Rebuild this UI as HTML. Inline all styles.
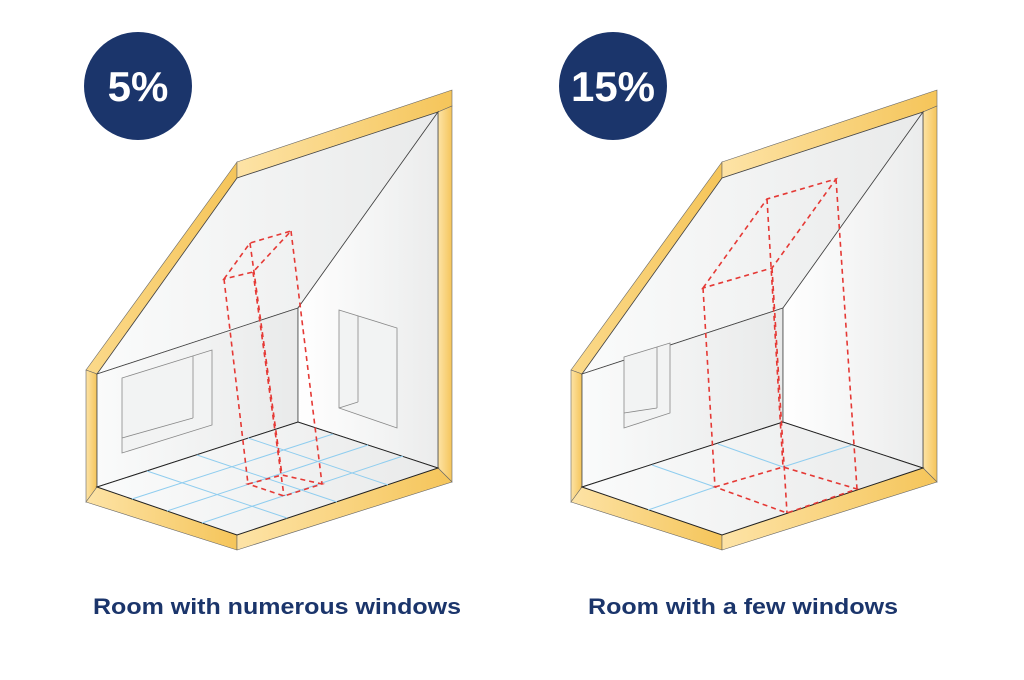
<!DOCTYPE html>
<html><head><meta charset="utf-8"><style>
html,body{margin:0;padding:0;background:#fff;}
svg{display:block}
</style></head><body>
<svg width="1024" height="680" viewBox="0 0 1024 680" xmlns="http://www.w3.org/2000/svg">
<defs>
<linearGradient id="fr" x1="0" y1="0" x2="1" y2="0"><stop offset="0" stop-color="#fde3a6"/><stop offset="1" stop-color="#f5c55a"/></linearGradient>
<linearGradient id="fr2" x1="0" y1="0" x2="1" y2="0"><stop offset="0" stop-color="#fbd98a"/><stop offset="1" stop-color="#f5c55a"/></linearGradient>
<linearGradient id="wl" x1="0" y1="0" x2="1" y2="0"><stop offset="0" stop-color="#fafbfb"/><stop offset="1" stop-color="#e9eaea"/></linearGradient>
<linearGradient id="wr" x1="0" y1="0" x2="1" y2="0"><stop offset="0" stop-color="#ffffff"/><stop offset="1" stop-color="#ebecec"/></linearGradient>
<g id="room">
 <polygon points="86,370 237,162 237,178 97,374" fill="url(#fr2)" stroke="#666" stroke-width="0.6"/>
 <polygon points="237,162 452,90 452,106 438,112 237,178" fill="url(#fr)" stroke="#666" stroke-width="0.6"/>
 <polygon points="86,370 97,374 97,487 86,502" fill="url(#fr)" stroke="#666" stroke-width="0.6"/>
 <polygon points="438,112 452,106 452,482 438,468" fill="url(#fr)" stroke="#666" stroke-width="0.6"/>
 <polygon points="86,502 97,487 237,535 237,550" fill="url(#fr)" stroke="#666" stroke-width="0.6"/>
 <polygon points="237,535 438,468 452,482 237,550" fill="url(#fr)" stroke="#666" stroke-width="0.6"/>
 <polygon points="97,374 237,178 438,112 298,308" fill="url(#wl)" stroke="#444" stroke-width="0.8"/>
 <polygon points="97,374 298,308 298,422 97,487" fill="url(#wl)" stroke="#444" stroke-width="0.8"/>
 <polygon points="298,308 438,112 438,468 298,422" fill="url(#wr)" stroke="#444" stroke-width="0.8"/>
 <polygon points="97,487 298,422 438,468 237,535" fill="url(#wl)" stroke="#222" stroke-width="1"/>
</g>
</defs>

<use href="#room"/>
<use href="#room" x="485"/>

<g fill="none" stroke="#888" stroke-width="0.8">
 <polygon points="122,378 212,350 212,425 122,453" fill="#f2f3f3"/>
 <line x1="193" y1="356" x2="193" y2="418"/>
 <line x1="122" y1="438" x2="193" y2="418"/>
 <polygon points="339,310 397,328 397,428 339,408" fill="#f2f3f3"/>
 <line x1="358" y1="316" x2="358" y2="402"/>
 <line x1="339" y1="408" x2="358" y2="402"/>
</g>
<g fill="none" stroke="#888" stroke-width="0.8">
 <polygon points="624,357 670,343 670,413 624,428" fill="#f2f3f3"/>
 <line x1="657" y1="347" x2="657" y2="408"/>
 <line x1="624" y1="413" x2="657" y2="408"/>
</g>

<g stroke="#8fcdef" stroke-width="1" fill="none">
 <line x1="132" y1="499" x2="333" y2="434"/>
 <line x1="167" y1="511" x2="368" y2="445"/>
 <line x1="202" y1="523" x2="403" y2="456"/>
 <line x1="147" y1="471" x2="287" y2="518"/>
 <line x1="197" y1="455" x2="337" y2="502"/>
 <line x1="248" y1="438" x2="388" y2="485"/>
</g>
<g stroke="#8fcdef" stroke-width="1" fill="none">
 <line x1="652" y1="465" x2="715" y2="487"/>
 <line x1="715" y1="487" x2="648" y2="510"/>
 <line x1="718" y1="444" x2="783" y2="467"/>
 <line x1="783" y1="467" x2="852" y2="445"/>
</g>

<g stroke="#e53935" stroke-width="1.6" stroke-dasharray="5,4" fill="none">
 <polygon points="224,279 250,243 291,231 253,272"/>
 <polygon points="248,484 282,475 322,484 284,496"/>
 <line x1="224" y1="279" x2="248" y2="484"/>
 <line x1="250" y1="243" x2="282" y2="475"/>
 <line x1="253" y1="272" x2="284" y2="496"/>
 <line x1="291" y1="231" x2="322" y2="484"/>
</g>
<g stroke="#e53935" stroke-width="1.6" stroke-dasharray="5,4" fill="none">
 <polygon points="703,288 767,199 836,179 772,268"/>
 <polygon points="715,487 783,467 857,489 787,513"/>
 <line x1="703" y1="288" x2="715" y2="487"/>
 <line x1="767" y1="199" x2="783" y2="467"/>
 <line x1="772" y1="268" x2="787" y2="513"/>
 <line x1="836" y1="179" x2="857" y2="489"/>
</g>

<circle cx="138" cy="86" r="54" fill="#1b356b"/>
<text x="138" y="101" text-anchor="middle" font-family="Liberation Sans, sans-serif" font-weight="bold" font-size="42" fill="#fff">5%</text>
<circle cx="613" cy="86" r="54" fill="#1b356b"/>
<text x="613" y="101" text-anchor="middle" font-family="Liberation Sans, sans-serif" font-weight="bold" font-size="42" fill="#fff">15%</text>

<text x="277" y="614" text-anchor="middle" font-family="Liberation Sans, sans-serif" font-weight="bold" font-size="22" textLength="368" lengthAdjust="spacingAndGlyphs" fill="#1b356b">Room with numerous windows</text>
<text x="743" y="614" text-anchor="middle" font-family="Liberation Sans, sans-serif" font-weight="bold" font-size="22" textLength="310" lengthAdjust="spacingAndGlyphs" fill="#1b356b">Room with a few windows</text>
</svg>
</body></html>
